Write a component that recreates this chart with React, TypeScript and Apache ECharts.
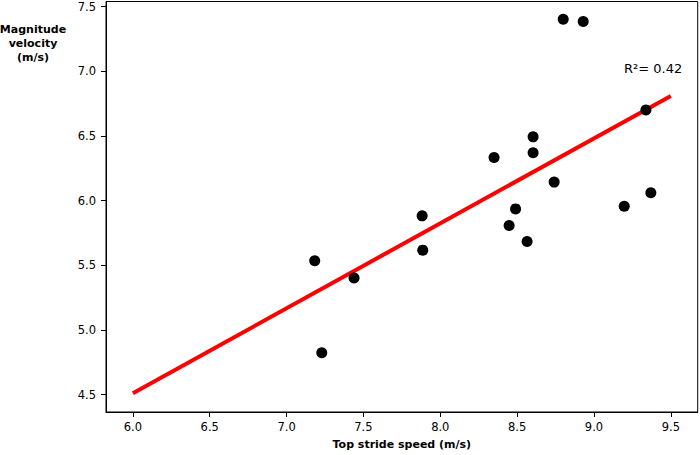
import React, { useEffect, useRef } from "react";
import * as echarts from "echarts";

const speedX = [7.183, 7.439, 7.229, 7.882, 7.886, 8.35, 8.604, 8.604, 8.741, 8.49, 8.448, 8.565, 9.197, 9.37, 8.8, 8.93, 9.338];
const velocityY = [5.534, 5.402, 4.824, 5.882, 5.617, 6.334, 6.37, 6.493, 6.143, 5.936, 5.808, 5.683, 5.956, 6.061, 7.403, 7.385, 6.7];
const fitX = [6.0, 9.5];
const fitY = [4.51, 6.81];
const xTicks = [6.0, 6.5, 7.0, 7.5, 8.0, 8.5, 9.0, 9.5];
const yTicks = [4.5, 5.0, 5.5, 6.0, 6.5, 7.0, 7.5];
const r2Label = "R²= 0.42";
const xTitle = "Top stride speed (m/s)";
const yTitle = "Magnitude\nvelocity\n(m/s)";

const FONT = "DejaVu Sans";

export default function App() {
  const ref = useRef<HTMLDivElement>(null);
  useEffect(() => {
    document.body.style.margin = "0";
    const chart = echarts.init(ref.current!, null, { renderer: "svg" });
    const axisCommon = {
      axisLine: { show: true, lineStyle: { color: "#000", width: 1 } },
      splitLine: { show: false },
    };
    chart.setOption({
      animation: false,
      backgroundColor: "#fff",
      grid: {
        left: 106,
        top: 1.5,
        right: 2.3,
        bottom: 39.3,
        show: true,
        borderColor: "#000",
        borderWidth: 1,
        containLabel: false,
      },
      xAxis: {
        type: "value",
        min: 5.825,
        max: 9.675,
        ...axisCommon,
        axisTick: { show: true, length: 5, inside: false, customValues: xTicks, lineStyle: { color: "#000" } },
        axisLabel: {
          customValues: xTicks,
          color: "#000",
          fontFamily: FONT,
          fontSize: 11.5,
          margin: 9,
          formatter: (v: number) => v.toFixed(1),
        },
        name: xTitle,
        nameLocation: "middle",
        nameGap: 27,
        nameTextStyle: { color: "#000", fontFamily: FONT, fontSize: 11, fontWeight: "bold" },
      },
      yAxis: {
        type: "value",
        min: 4.365,
        max: 7.54,
        ...axisCommon,
        axisTick: { show: true, length: 5, inside: false, customValues: yTicks, lineStyle: { color: "#000" } },
        axisLabel: {
          customValues: yTicks,
          color: "#000",
          fontFamily: FONT,
          fontSize: 11.5,
          margin: 10,
          formatter: (v: number) => v.toFixed(1),
        },
      },
      graphic: [
        {
          type: "text",
          x: 33,
          y: 43,
          style: {
            text: yTitle,
            textAlign: "center",
            textVerticalAlign: "middle",
            fontFamily: FONT,
            fontSize: 11,
            fontWeight: "bold",
            lineHeight: 14,
            fill: "#000",
          },
        },
        {
          type: "text",
          x: 624,
          y: 68,
          style: {
            text: r2Label,
            textAlign: "left",
            textVerticalAlign: "middle",
            fontFamily: FONT,
            fontSize: 13,
            fill: "#000",
          },
        },
      ],
      series: [
        {
          type: "line",
          data: fitX.map((x, i) => [x, fitY[i]]),
          symbol: "none",
          lineStyle: { color: "#ff0000", width: 4 },
          z: 2,
        },
        {
          type: "scatter",
          data: speedX.map((x, i) => [x, velocityY[i]]),
          symbol: "circle",
          symbolSize: 11,
          itemStyle: { color: "#000", opacity: 1 },
          z: 3,
        },
      ],
    });
    return () => chart.dispose();
  }, []);
  return <div ref={ref} style={{ position: "absolute", left: 0, top: 0, width: 700, height: 455 }} />;
}
